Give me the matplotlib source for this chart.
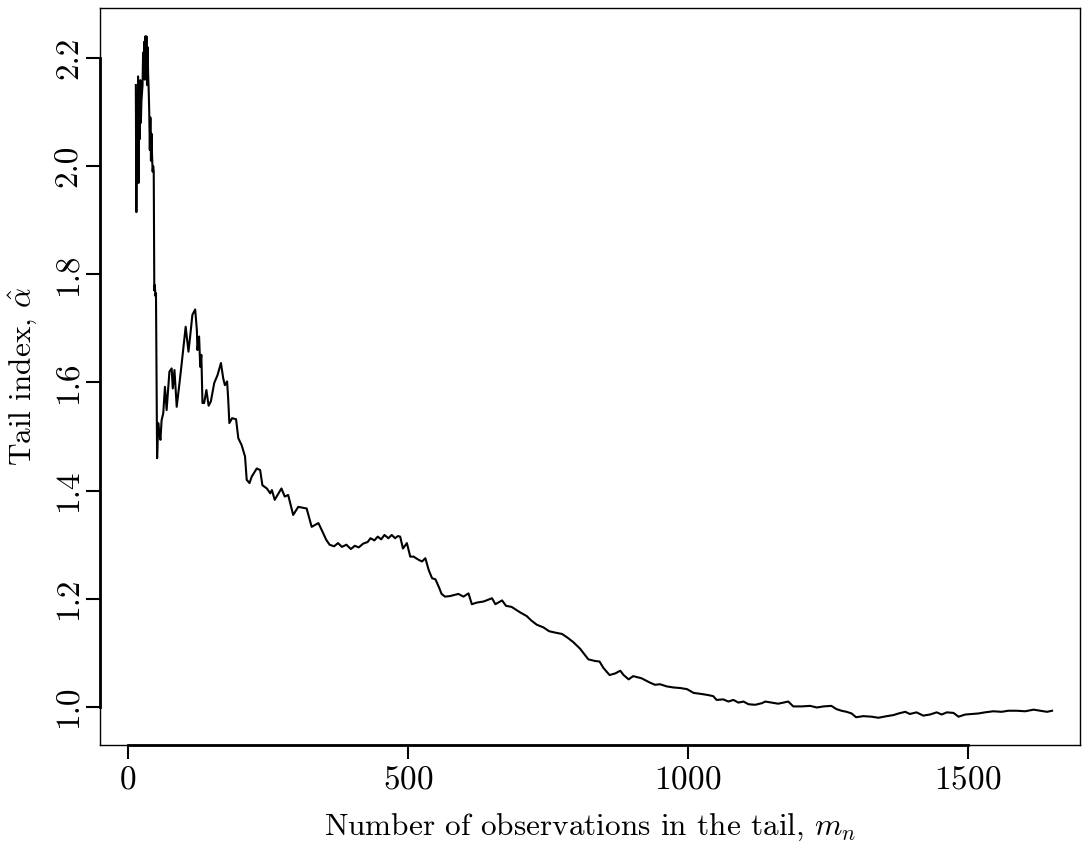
import matplotlib
matplotlib.use("Agg")
import matplotlib.pyplot as plt
from matplotlib.ticker import FormatStrFormatter

plt.rcParams["font.family"] = "cmr10"
plt.rcParams["mathtext.fontset"] = "cm"
plt.rcParams["axes.formatter.use_mathtext"] = True

# tail size m_n and Hill estimate
m_n = [14, 15, 16, 17, 18, 19, 20, 21, 22, 23, 24, 26, 27, 28, 29, 30, 31, 32, 33, 34,
       35, 36, 37, 38, 39, 40, 41, 42, 43, 44, 45, 46, 47, 48, 49, 50, 52, 54, 56, 58,
       60, 63, 66, 69, 74, 78, 80, 83, 87, 92, 96, 103, 108, 111, 115, 120, 123, 124, 127, 129,
       131, 133, 136, 140, 144, 148, 154, 160, 166, 170, 173, 177, 179, 181, 186, 193, 197, 203, 209, 212,
       217, 221, 230, 236, 240, 248, 254, 257, 262, 274, 280, 286, 295, 304, 319, 328, 340, 346, 354, 360,
       368, 375, 382, 390, 398, 405, 412, 420, 428, 433, 440, 446, 452, 458, 465, 471, 477, 482, 486, 491,
       498, 504, 510, 519, 525, 531, 537, 543, 549, 555, 560, 566, 575, 590, 599, 608, 614, 623, 635, 650,
       656, 668, 675, 685, 691, 700, 712, 720, 730, 742, 752, 765, 775, 785, 795, 807, 816, 822, 834, 842,
       849, 860, 870, 879, 885, 894, 902, 917, 932, 941, 950, 962, 974, 986, 998, 1010, 1024, 1036, 1045, 1051,
       1063, 1072, 1081, 1090, 1099, 1108, 1120, 1132, 1138, 1149, 1161, 1170, 1179, 1188, 1203, 1218, 1230, 1242, 1256, 1265,
       1274, 1283, 1292, 1300, 1313, 1328, 1340, 1355, 1367, 1376, 1388, 1396, 1408, 1420, 1432, 1444, 1453, 1462, 1474, 1483,
       1495, 1507, 1519, 1530, 1545, 1560, 1572, 1587, 1602, 1617, 1629, 1641, 1650]
alpha_hat = [2.150, 1.915, 2.120, 2.000, 2.166, 1.969, 2.100, 2.050, 2.159, 2.080, 2.120, 2.150, 2.210, 2.170, 2.230, 2.160, 2.240, 2.190, 2.240, 2.150,
             2.220, 2.170, 2.140, 2.098, 2.030, 2.090, 2.010, 2.060, 2.020, 1.990, 2.000, 1.990, 1.770, 1.780, 1.760, 1.765, 1.460, 1.525, 1.505, 1.494,
             1.530, 1.543, 1.592, 1.549, 1.620, 1.626, 1.589, 1.623, 1.555, 1.599, 1.636, 1.703, 1.657, 1.685, 1.725, 1.735, 1.697, 1.660, 1.685, 1.629,
             1.651, 1.562, 1.562, 1.586, 1.557, 1.565, 1.599, 1.614, 1.636, 1.608, 1.595, 1.602, 1.568, 1.525, 1.534, 1.532, 1.497, 1.484, 1.463, 1.420,
             1.414, 1.426, 1.441, 1.438, 1.410, 1.404, 1.395, 1.401, 1.383, 1.404, 1.389, 1.392, 1.355, 1.370, 1.367, 1.333, 1.340, 1.327, 1.309, 1.300,
             1.297, 1.303, 1.296, 1.300, 1.292, 1.298, 1.295, 1.302, 1.305, 1.312, 1.308, 1.315, 1.310, 1.318, 1.312, 1.318, 1.312, 1.316, 1.315, 1.293,
             1.303, 1.278, 1.278, 1.272, 1.269, 1.275, 1.253, 1.238, 1.236, 1.222, 1.209, 1.204, 1.205, 1.209, 1.204, 1.210, 1.190, 1.193, 1.195, 1.201,
             1.190, 1.197, 1.187, 1.185, 1.181, 1.175, 1.168, 1.160, 1.152, 1.147, 1.140, 1.137, 1.135, 1.128, 1.120, 1.108, 1.096, 1.088, 1.085, 1.084,
             1.072, 1.059, 1.062, 1.067, 1.059, 1.051, 1.057, 1.053, 1.045, 1.041, 1.042, 1.038, 1.036, 1.035, 1.033, 1.026, 1.024, 1.022, 1.020, 1.013,
             1.014, 1.010, 1.013, 1.008, 1.010, 1.005, 1.004, 1.007, 1.010, 1.008, 1.006, 1.008, 1.010, 1.001, 1.001, 1.002, 0.999, 1.001, 1.002, 0.996,
             0.993, 0.991, 0.988, 0.981, 0.983, 0.982, 0.980, 0.983, 0.985, 0.988, 0.991, 0.987, 0.990, 0.984, 0.986, 0.990, 0.986, 0.990, 0.989, 0.982,
             0.986, 0.987, 0.988, 0.990, 0.992, 0.991, 0.993, 0.993, 0.992, 0.995, 0.993, 0.991, 0.993]

x_ticks = [0, 500, 1000, 1500]
y_ticks = [1.0, 1.2, 1.4, 1.6, 1.8, 2.0, 2.2]

fig = plt.figure(figsize=(10.82, 8.48), dpi=100)
ax = fig.add_axes([0.0924, 0.1215, 0.9058, 0.8691])

ax.plot(m_n, alpha_hat, color="black", lw=1.5)

ax.set_xlim(-50, 1700)
ax.set_ylim(0.9297, 2.2925)

# R style: thin box plus heavier axis lines between the end ticks
for s in ax.spines.values():
    s.set_linewidth(1.0)
ax.plot([x_ticks[0], x_ticks[-1]], [0, 0], color="black", lw=2,
        transform=ax.get_xaxis_transform(), clip_on=False)
ax.plot([0, 0], [y_ticks[0], y_ticks[-1]], color="black", lw=2,
        transform=ax.get_yaxis_transform(), clip_on=False)

ax.set_xticks(x_ticks)
ax.set_yticks(y_ticks)
ax.yaxis.set_major_formatter(FormatStrFormatter("%.1f"))
ax.tick_params(direction="out", length=10, width=1.5, labelsize=24)
ax.tick_params(axis="x", pad=5)
ax.tick_params(axis="y", pad=2)
for lab in ax.get_yticklabels():
    lab.set_rotation(90)
    lab.set_verticalalignment("center")

ax.set_xlabel(r"Number of observations in the tail, $m_n$", fontsize=22.5, labelpad=12)
ax.set_ylabel(r"Tail index, $\hat{\alpha}$", fontsize=22.5, labelpad=10)

fig.savefig("out.png", dpi=100)
